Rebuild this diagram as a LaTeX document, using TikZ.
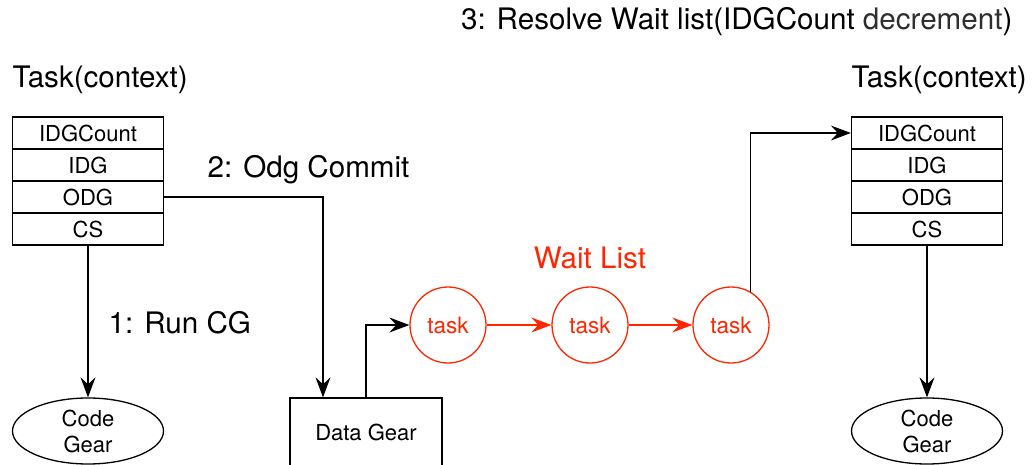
\documentclass[tikz,border=0pt]{standalone}
\usepackage{fontspec}
\setmainfont{TeX Gyre Heros}
\usetikzlibrary{arrows.meta,shapes.geometric}
\definecolor{ored}{HTML}{FF2600}
\definecolor{dgray}{HTML}{2E2E2E}
\begin{document}
\begin{tikzpicture}[x=1pt,y=-1pt,
  line width=1.3pt,
  tip/.style={-{Stealth[length=20pt,width=15pt,inset=7pt]}},
  cell/.style={draw,rectangle,minimum width=151pt,minimum height=32pt,inner sep=0pt,font=\fontsize{22}{26}\selectfont},
  big/.style={font=\fontsize{29.6}{34}\selectfont,inner sep=0pt},
  cg/.style={draw,ellipse,minimum width=151pt,minimum height=66pt,inner sep=0pt,align=center,font=\fontsize{22}{26}\selectfont},
  tsk/.style={draw=ored,circle,minimum size=76pt,inner sep=0pt,text=ored,font=\fontsize{22.5}{26}\selectfont},
  rtip/.style={tip,draw=ored,fill=ored}]
\useasboundingbox (0,0) rectangle (1033,465);
% left task
\node[big,anchor=west] (ltl) at (12,80) {Task(context)};
\node[cell] (lidgc) at (88,133) {IDGCount};
\node[cell] (lidg) at (88,165) {IDG};
\node[cell] (lodg) at (88,197) {ODG};
\node[cell] (lcs) at (88,229) {CS};
\node[cg] (lcg) at (88,431) {Code\\Gear};
% right task
\node[big,anchor=west] (rtl) at (851,80) {Task(context)};
\node[cell] (ridgc) at (927,133) {IDGCount};
\node[cell] (ridg) at (927,165) {IDG};
\node[cell] (rodg) at (927,197) {ODG};
\node[cell] (rcs) at (927,229) {CS};
\node[cg] (rcg) at (927,431) {Code\\Gear};
% data gear
\node[draw,rectangle,minimum width=152pt,minimum height=72pt,inner sep=0pt] (dg) at (366,434) {};
\node[font=\fontsize{22}{26}\selectfont,inner sep=0pt] (dgt) at (366,432) {Data Gear};
% tasks
\node[tsk] (t1) at (448,325) {task};
\node[tsk] (t2) at (590,325) {task};
\node[tsk] (t3) at (731,325) {task};
% labels
\node[big,anchor=west] (l1) at (108,323) {1: Run CG};
\node[big,anchor=west] (l2) at (207,170) {2: Odg Commit};
\node[big,text=ored] (lw) at (590,258) {Wait List};
\node[big,anchor=east] (l3) at (1013,22) {3: Resolve Wait list(IDGCount \textcolor{dgray}{decrement})};
% connectors
\draw[tip] (lcs.south) -- (lcg.north);
\draw[tip] (rcs.south) -- (rcg.north);
\draw[tip] (lodg.east) -| ([xshift=-43pt]dg.north);
\draw[tip] (dg.north) |- (t1.west);
\draw[rtip] (t1.east) -- (t2.west);
\draw[rtip] (t2.east) -- (t3.west);
\draw[tip] (t3.60) |- (ridgc.west);
\end{tikzpicture}
\end{document}
